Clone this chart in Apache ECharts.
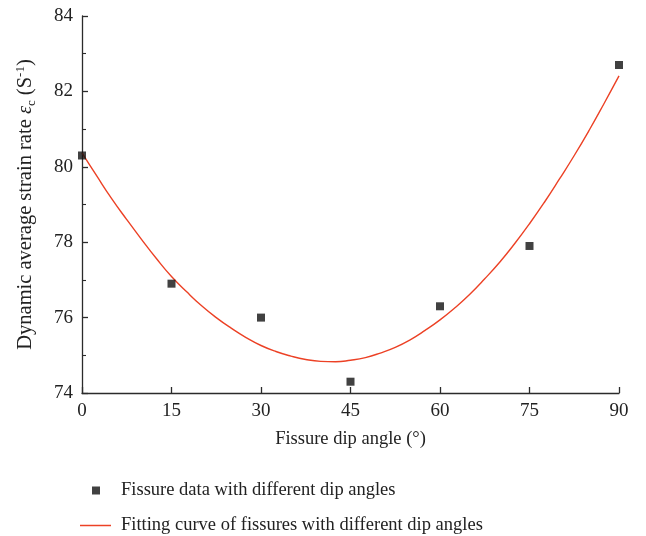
<!DOCTYPE html>
<html lang="en">
<head>
<meta charset="UTF-8">
<title>Dynamic average strain rate vs fissure dip angle</title>
<script src="https://cdn.jsdelivr.net/npm/echarts@6/dist/echarts.min.js"></script>
<style>
html, body { margin: 0; padding: 0; background: #fff; }
#chart { width: 646px; height: 536px; }
</style>
</head>
<body>
<div id="chart"></div>
<script>
// measured points
const dipAngles = [0, 15, 30, 45, 60, 75, 90];
const strainRates = [80.3, 76.9, 76.0, 74.3, 76.3, 77.9, 82.7];

// fitting curve, every 2.5 degrees
const curveAngles = [0, 2.5, 5, 7.5, 10, 12.5, 15, 17.5, 20, 22.5, 25, 27.5, 30, 32.5, 35, 37.5,
  40, 42.5, 45, 47.5, 50, 52.5, 55, 57.5, 60, 62.5, 65, 67.5, 70, 72.5, 75, 77.5, 80, 82.5, 85, 87.5, 90];
const curveRates = [80.37, 79.75, 79.15, 78.6, 78.07, 77.56, 77.09, 76.69, 76.32, 76.0, 75.72, 75.47,
  75.26, 75.1, 74.98, 74.89, 74.84, 74.83, 74.87, 74.94, 75.06, 75.21, 75.41, 75.66, 75.94, 76.26,
  76.62, 77.03, 77.47, 77.96, 78.49, 79.06, 79.67, 80.3, 80.97, 81.68, 82.41];

const scatterName = 'Fissure data with different dip angles';
const curveName = 'Fitting curve of fissures with different dip angles';

const serif = '"Liberation Serif", "DejaVu Serif", serif';
const axisColor = '#2b2b2b';
const textColor = '#222';
const curveColor = '#ec4125';

const chart = echarts.init(document.getElementById('chart'));

const option = {
  animation: false,
  textStyle: { fontFamily: serif },
  grid: { left: 82, right: 27, top: 16, bottom: 143, containLabel: false },
  legend: [
    {
      left: 92,
      top: 481,
      padding: 0,
      itemWidth: 8,
      itemHeight: 8,
      textStyle: { fontFamily: serif, fontSize: 18.5, color: textColor, padding: [0, 0, 0, 16] },
      data: [{ name: scatterName, icon: 'rect' }]
    },
    {
      left: 80,
      top: 516,
      padding: 0,
      itemWidth: 31,
      itemHeight: 1.5,
      textStyle: { fontFamily: serif, fontSize: 18.5, color: textColor, padding: [0, 0, 0, 5] },
      data: [{ name: curveName, icon: 'rect', itemStyle: { color: curveColor } }]
    }
  ],
  xAxis: {
    type: 'value',
    min: 0,
    max: 90,
    interval: 15,
    name: 'Fissure dip angle (°)',
    nameLocation: 'middle',
    nameGap: 37,
    nameTextStyle: { fontFamily: serif, fontSize: 18.5, color: textColor },
    axisLine: { show: true, lineStyle: { color: axisColor, width: 1.3 } },
    axisTick: { show: true, inside: true, length: 6, lineStyle: { color: axisColor, width: 1.3 } },
    axisLabel: { fontFamily: serif, fontSize: 19, color: textColor, margin: 9 },
    splitLine: { show: false }
  },
  yAxis: {
    type: 'value',
    min: 74,
    max: 84,
    interval: 2,
    name: 'Dynamic average strain rate {e|ε}{sub|c} (S{sup|-1})',
    nameLocation: 'middle',
    nameGap: 44,
    nameRotate: 90,
    nameTextStyle: {
      fontFamily: serif, fontSize: 20.5, color: textColor, lineHeight: 24,
      rich: {
        e: { fontFamily: serif, fontSize: 20.5, fontStyle: 'italic', color: textColor, lineHeight: 24 },
        sub: { fontFamily: serif, fontSize: 13, color: textColor, verticalAlign: 'bottom' },
        sup: { fontFamily: serif, fontSize: 13, color: textColor, verticalAlign: 'top' }
      }
    },
    axisLine: { show: true, lineStyle: { color: axisColor, width: 1.3 } },
    axisTick: { show: true, inside: true, length: 6, lineStyle: { color: axisColor, width: 1.3 } },
    minorTick: { show: true, splitNumber: 2, length: 4, lineStyle: { color: axisColor, width: 1.1 } },
    axisLabel: { fontFamily: serif, fontSize: 19, color: textColor, margin: 9 },
    splitLine: { show: false }
  },
  series: [
    {
      name: scatterName,
      type: 'scatter',
      symbol: 'rect',
      symbolSize: 8,
      itemStyle: { color: '#111' },
      data: dipAngles.map((a, i) => [a, strainRates[i]]),
      z: 3
    },
    {
      name: curveName,
      type: 'line',
      smooth: true,
      symbol: 'none',
      lineStyle: { color: curveColor, width: 1.4 },
      itemStyle: { color: curveColor },
      data: curveAngles.map((a, i) => [a, curveRates[i]]),
      z: 2
    }
  ]
};

chart.setOption(option);
</script>
</body>
</html>
